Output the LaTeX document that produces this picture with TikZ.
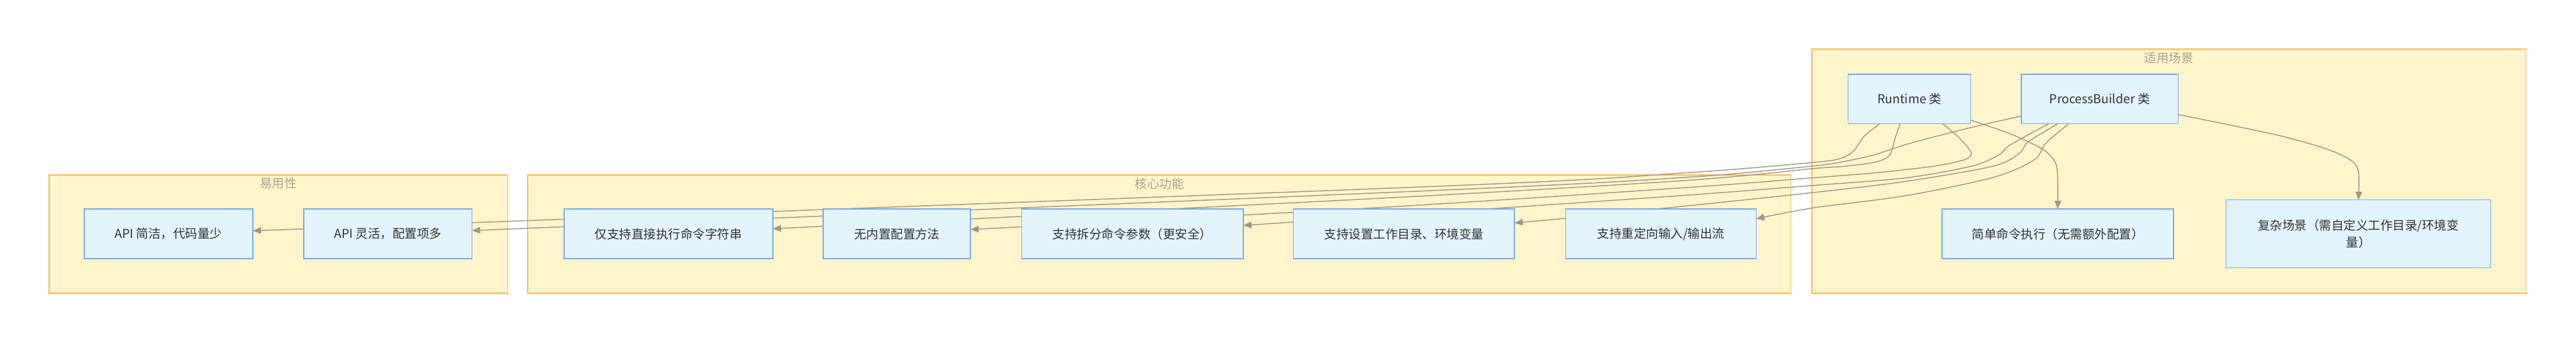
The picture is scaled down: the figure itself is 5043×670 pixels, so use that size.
\documentclass[tikz,border=0pt]{standalone}
\usepackage{fontspec}
\setmainfont{Noto Sans CJK SC}
\usetikzlibrary{arrows.meta,calc}
\definecolor{clfill}{RGB}{255,245,204}
\definecolor{cldraw}{RGB}{255,186,82}
\definecolor{cltext}{RGB}{170,162,140}
\definecolor{bxfill}{RGB}{227,244,253}
\definecolor{bxdraw}{RGB}{118,168,245}
\definecolor{bxtext}{RGB}{51,51,51}
\definecolor{lnk}{RGB}{158,152,135}
\pgfdeclarelayer{cluster}
\pgfdeclarelayer{edge}
\pgfsetlayers{cluster,edge,main}

\begin{document}
\begin{tikzpicture}[x=0.5pt,y=-0.5pt,
  box/.style={draw=bxdraw,fill=bxfill,line width=1pt,text=bxtext,inner sep=0pt,outer sep=0pt,minimum height=48.5pt,font=\fontsize{12pt}{17pt}\selectfont},
  group/.style={draw=cldraw,fill=clfill,line width=1pt},
  grouptitle/.style={text=cltext,font=\fontsize{12pt}{17pt}\selectfont},
  link/.style={draw=lnk,line width=0.9pt,-{Triangle[length=8pt,width=6.5pt]}}]
\useasboundingbox (0,0) rectangle (5043,670);
\begin{pgfonlayer}{cluster}
\draw[group] (96,342) rectangle (994,574);
\draw[group] (1033,342) rectangle (3506,574);
\draw[group] (3547,96) rectangle (4945,574);
\node[grouptitle] (ease) at (545,359) {易用性};
\node[grouptitle] (core) at (2270,359) {核心功能};
\node[grouptitle] (scene) at (4246,113) {适用场景};
\end{pgfonlayer}
\node[box,minimum width=165pt] (jj) at (330,457.5) {API 简洁，代码量少};
\node[box,minimum width=164.5pt] (lh) at (759.5,457.5) {API 灵活，配置项多};
\node[box,minimum width=204.5pt] (zj) at (1308.5,457.5) {仅支持直接执行命令字符串};
\node[box,minimum width=144pt] (wn) at (1756,457.5) {无内置配置方法};
\node[box,minimum width=217pt] (cf) at (2217,457.5) {支持拆分命令参数（更安全）};
\node[box,minimum width=216.5pt] (sz) at (2748.5,457.5) {支持设置工作目录、环境变量};
\node[box,minimum width=186.5pt] (cd) at (3251.5,457.5) {支持重定向输入/输出流};
\node[box,minimum width=120pt] (rt) at (3738,193.5) {Runtime 类};
\node[box,minimum width=153.5pt] (pb) at (4110.5,193.5) {ProcessBuilder 类};
\node[box,minimum width=226.5pt] (jd) at (4028.5,457.5) {简单命令执行（无需额外配置）};
\node[box,minimum width=259pt,minimum height=66.5pt,align=center] (fz) at (4617,457.5) {复杂场景（需自定义工作目录/环境变\\量）};
\begin{pgfonlayer}{edge}
\draw[link] plot[smooth] coordinates {($(rt.south)+(-58,0)$) (3649,267) (3629,295) (3603,310) (3547,318) (3300,338) (2800,365) ($(jj.east)+(0,-6)$)};
\draw[link] plot[smooth] coordinates {($(pb.west)+(0,33.5)$) (3844,253) (3730,283) (3672,302) (3615,315) (3547,325) (3300,347) (2800,373) ($(lh.east)+(0,-6.5)$)};
\draw[link] plot[smooth] coordinates {($(rt.south)+(-18,0)$) (3710,270) (3704,293) (3696,307) (3672,317) (3615,325) (3547,330) (3300,353) (2700,388) ($(zj.east)+(0,-10)$)};
\draw[link] plot[smooth] coordinates {($(rt.south)+(65,0)$) (3833,267) (3856,293) (3859,303) (3844,313) (3787,325) (3672,338) (3547,348) (3300,367) (2700,406) ($(wn.east)+(0,-8.5)$)};
\draw[link] plot[smooth] coordinates {($(pb.south)+(-99.5,0)$) (3936,283) (3913,303) (3860,325) (3730,348) (3547,363) (3300,382) (2923,408) ($(cf.east)+(0,-16.5)$)};
\draw[link] plot[smooth] coordinates {($(pb.south)+(-81.5,0)$) (3971,277) (3953,300) (3902,325) (3730,355) (3547,377) (3300,403) (3065,427) ($(sz.east)+(0,-21.5)$)};
\draw[link] plot[smooth] coordinates {($(pb.south)+(-60.5,0)$) (4005,280) (3982,313) (3902,347) (3730,383) (3547,407) ($(cd.east)+(0,-29.5)$)};
\draw[link] plot[smooth] coordinates {($(rt.south east)+(0,-7)$) (3936,262) (3999,292) (4022,315) (4028,340) (jd.north)};
\draw[link] plot[smooth] coordinates {($(pb.east)+(0,30.5)$) (4457,264) (4553,291) (4600,312) (4617,335) (fz.north)};
\end{pgfonlayer}
\end{tikzpicture}
\end{document}
